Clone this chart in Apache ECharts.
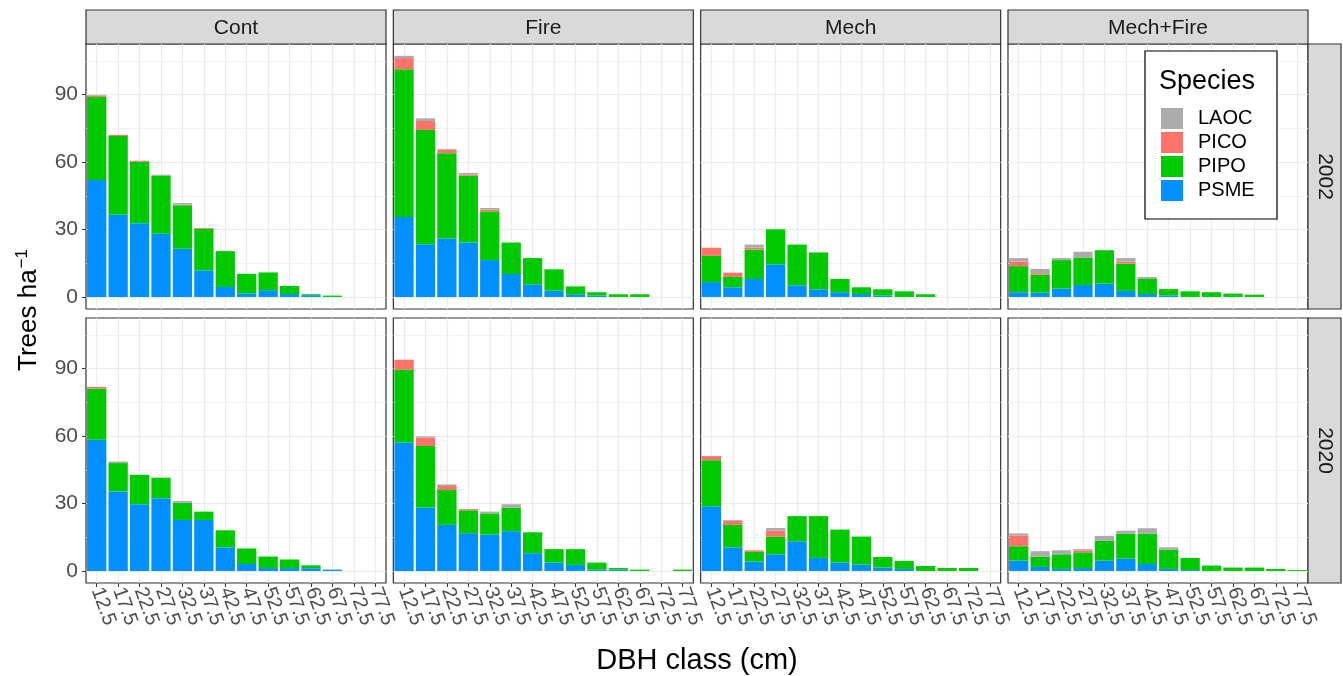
<!DOCTYPE html>
<html>
<head>
<meta charset="utf-8">
<title>Trees per ha by DBH class</title>
<script src="https://cdn.jsdelivr.net/npm/echarts@6/dist/echarts.min.js"></script>
<style>
	html, body { margin: 0; padding: 0; background: #fff; }
	#box { width: 1343px; height: 676px; }
</style>
</head>
<body>
<div id="box"></div>
<script>
// categories
var dbhClasses = ['12.5', '17.5', '22.5', '27.5', '32.5', '37.5', '42.5', '47.5', '52.5', '57.5', '62.5', '67.5', '72.5', '77.5'];
var treatments = ['Cont', 'Fire', 'Mech', 'Mech+Fire'];
var years = ['2002', '2020'];
// stack order, bottom to top
var speciesNames = ['PSME', 'PIPO', 'PICO', 'LAOC'];
var speciesColors = ['#0090FF', '#00C900', '#FF736B', '#ABABAB'];
var yTicks = [0, 30, 60, 90];
var yMinorTicks = [15, 45, 75, 105];

// 2002
var cont2002PSME = [52, 36.6, 32.8, 28.1, 21.4, 11.8, 4.4, 1.6, 3.0, 1.3, 0.8, 0, 0, 0];
var cont2002PIPO = [37, 35, 27.3, 25.8, 19.4, 18.5, 16, 8.7, 7.9, 3.6, 0.4, 0.6, 0, 0];
var cont2002PICO = [0.6, 0.5, 0.5, 0, 0.3, 0.4, 0, 0, 0, 0, 0, 0, 0, 0];
var cont2002LAOC = [0.4, 0, 0, 0.5, 0.7, 0, 0, 0, 0, 0, 0, 0, 0, 0];

var fire2002PSME = [35.6, 23.5, 26, 24.2, 16.4, 10.2, 5.6, 2.8, 1.2, 0.6, 0, 0, 0, 0];
var fire2002PIPO = [65.7, 50.8, 38, 29.7, 21.7, 14, 11.7, 9.5, 3.5, 1.5, 1.2, 1.2, 0, 0];
var fire2002PICO = [5, 4, 1.5, 0.5, 0.8, 0, 0, 0, 0, 0, 0, 0, 0, 0];
var fire2002LAOC = [1, 1.2, 0.4, 0.8, 0.7, 0, 0, 0, 0, 0, 0, 0, 0, 0];

var mech2002PSME = [6.6, 4.3, 8, 14.5, 5.2, 3.4, 2.1, 1.3, 0.6, 0, 0, 0, 0, 0];
var mech2002PIPO = [11.7, 4.6, 13.1, 15.6, 18.1, 16.4, 5.9, 3, 2.8, 2.5, 1.2, 0, 0, 0];
var mech2002PICO = [3.6, 1.9, 0.9, 0, 0, 0, 0, 0, 0, 0, 0, 0, 0, 0];
var mech2002LAOC = [0, 0, 1.3, 0, 0, 0, 0, 0, 0, 0, 0, 0, 0, 0];

var mechFire2002PSME = [2.1, 1.9, 3.7, 5.3, 5.9, 2.7, 1.3, 0.7, 0, 0, 0, 0, 0, 0];
var mechFire2002PIPO = [11.6, 8.1, 12.7, 12.1, 14.9, 12.1, 6.7, 2.8, 2.5, 2.1, 1.5, 1.0, 0, 0];
var mechFire2002PICO = [2.1, 0.6, 0, 0, 0, 0.9, 0, 0, 0, 0, 0, 0, 0, 0];
var mechFire2002LAOC = [1.5, 1.9, 0.9, 2.7, 0, 1.6, 0.9, 0, 0, 0, 0, 0, 0, 0];

// 2020
var cont2020PSME = [58.4, 35.4, 29.7, 32.4, 22.7, 22.7, 10.5, 3.1, 1.3, 1.3, 1.2, 0.6, 0, 0];
var cont2020PIPO = [22.7, 12.6, 13.1, 9.1, 7.6, 3.7, 7.6, 6.9, 5.1, 3.8, 1.3, 0, 0, 0];
var cont2020PICO = [0.8, 0, 0, 0, 0, 0, 0, 0, 0, 0, 0, 0, 0, 0];
var cont2020LAOC = [0, 0.7, 0, 0, 0.8, 0, 0, 0, 0, 0, 0, 0, 0, 0];

var fire2020PSME = [57.2, 28.2, 20.5, 16.8, 16.2, 17.7, 7.9, 3.7, 2.7, 0.6, 0.6, 0, 0, 0];
var fire2020PIPO = [32.3, 27.4, 15.5, 10.2, 9.4, 10.4, 9.3, 6, 7, 3.1, 0.7, 0.6, 0, 0.6];
var fire2020PICO = [4.5, 3.7, 1.8, 0.5, 0, 0, 0, 0, 0, 0, 0, 0, 0, 0];
var fire2020LAOC = [0, 0.6, 0.7, 0, 0.8, 1.6, 0, 0, 0, 0, 0, 0, 0, 0];

var mech2020PSME = [28.8, 10.5, 4.2, 7.4, 13.2, 5.8, 3.7, 2.8, 1.5, 0.9, 0, 0, 0, 0];
var mech2020PIPO = [20.5, 10, 4.3, 7.8, 11.2, 18.6, 14.7, 12.5, 4.7, 3.6, 2.2, 1.3, 1.3, 0];
var mech2020PICO = [1.8, 1.8, 0.7, 2.7, 0, 0, 0, 0, 0, 0, 0, 0, 0, 0];
var mech2020LAOC = [0, 0.4, 0, 1.2, 0, 0, 0, 0, 0, 0, 0, 0, 0, 0];

var mechFire2020PSME = [4.6, 1.8, 0.9, 1.3, 4.6, 5.5, 3.1, 0.9, 0.4, 0, 0, 0, 0, 0];
var mechFire2020PIPO = [6.4, 4.6, 6.5, 7, 8.8, 11.1, 13.5, 8.6, 5.4, 2.4, 1.5, 1.5, 0.9, 0.4];
var mechFire2020PICO = [4.8, 0, 0, 0.9, 0, 0, 0, 0, 0, 0, 0, 0, 0, 0];
var mechFire2020LAOC = [0.9, 2.4, 1.8, 0.5, 2.2, 1.3, 2.4, 1.0, 0, 0, 0, 0, 0, 0];

// panels in row order (2002 row, then 2020 row), species in stack order
var panelData = [
	[cont2002PSME, cont2002PIPO, cont2002PICO, cont2002LAOC],
	[fire2002PSME, fire2002PIPO, fire2002PICO, fire2002LAOC],
	[mech2002PSME, mech2002PIPO, mech2002PICO, mech2002LAOC],
	[mechFire2002PSME, mechFire2002PIPO, mechFire2002PICO, mechFire2002LAOC],
	[cont2020PSME, cont2020PIPO, cont2020PICO, cont2020LAOC],
	[fire2020PSME, fire2020PIPO, fire2020PICO, fire2020LAOC],
	[mech2020PSME, mech2020PIPO, mech2020PICO, mech2020LAOC],
	[mechFire2020PSME, mechFire2020PIPO, mechFire2020PICO, mechFire2020LAOC]
];

var font = "'Liberation Sans', Arial, sans-serif";
var panelW = 300, panelH = 265, panelStep = 307.33;
var panelTops = [44, 318];
var stripTop = 10, stripH = 34, rightStripX = 1308, rightStripW = 33;
var yMin = -5.36, yMax = 112.56;

function panelLeft(c) {
	return 86 + c * panelStep;
}

var myChart = echarts.init(document.getElementById("box"));

var grids = [], xAxes = [], yAxes = [], series = [], graphics = [];
var centreIdx = dbhClasses.map(function (d, i) { return i; });

for (var r = 0; r < years.length; r++) {
	for (var c = 0; c < treatments.length; c++) {
		var p = r * treatments.length + c;
		grids.push({
			left: panelLeft(c),
			top: panelTops[r],
			width: panelW,
			height: panelH,
			show: true,
			backgroundColor: '#fff',
			borderColor: '#333',
			borderWidth: 1.2
		});
		// category axis carrying the bars and the labels
		xAxes.push({
			gridIndex: p,
			type: 'category',
			data: dbhClasses,
			axisLine: { show: false, onZero: false },
			axisTick: { show: r == 1, alignWithLabel: true, length: 4, lineStyle: { color: '#333' } },
			axisLabel: {
				show: r == 1,
				interval: 0,
				rotate: -70,
				margin: 5,
				fontSize: 20,
				fontFamily: font,
				color: '#4D4D4D'
			},
			splitLine: { show: false }
		});
		// helper axis: gridlines at the category centres
		xAxes.push({
			gridIndex: p,
			type: 'value',
			min: -0.5,
			max: 13.5,
			axisLine: { show: false, onZero: false },
			axisTick: { show: false, customValues: centreIdx },
			axisLabel: { show: false },
			splitLine: { show: true, lineStyle: { color: '#EBEBEB', width: 1.2 } }
		});
		yAxes.push({
			gridIndex: p,
			type: 'value',
			min: yMin,
			max: yMax,
			axisLine: { show: false, onZero: false },
			axisTick: { show: c == 0, customValues: yTicks, length: 4, lineStyle: { color: '#333' } },
			axisLabel: {
				show: c == 0,
				customValues: yTicks,
				margin: 8,
				fontSize: 21,
				fontFamily: font,
				color: '#4D4D4D'
			},
			splitLine: { show: true, lineStyle: { color: '#EBEBEB', width: 1.2 } }
		});
		yAxes.push({
			gridIndex: p,
			type: 'value',
			min: yMin,
			max: yMax,
			axisLine: { show: false, onZero: false },
			axisTick: { show: false, customValues: yMinorTicks },
			axisLabel: { show: false },
			splitLine: { show: true, lineStyle: { color: '#EFEFEF', width: 0.8 } }
		});
		for (var s = 0; s < speciesNames.length; s++) {
			series.push({
				type: 'bar',
				name: speciesNames[s],
				xAxisIndex: 2 * p,
				yAxisIndex: 2 * p,
				stack: 'panel' + p,
				barCategoryGap: '10%',
				data: panelData[p][s],
				itemStyle: { color: speciesColors[s] },
				emphasis: { disabled: true }
			});
		}
	}
}

// facet strips on top
treatments.forEach(function (t, c) {
	graphics.push({
		type: 'rect',
		shape: { x: panelLeft(c), y: stripTop, width: panelW, height: stripH },
		style: { fill: '#D9D9D9', stroke: '#333', lineWidth: 1.2 }
	});
	graphics.push({
		type: 'text',
		x: panelLeft(c) + panelW / 2,
		y: stripTop + stripH / 2 + 1,
		style: { text: t, fontSize: 21, fontFamily: font, fill: '#1A1A1A', align: 'center', verticalAlign: 'middle' }
	});
});
// facet strips on the right
years.forEach(function (y, r) {
	graphics.push({
		type: 'rect',
		shape: { x: rightStripX, y: panelTops[r], width: rightStripW, height: panelH },
		style: { fill: '#D9D9D9', stroke: '#333', lineWidth: 1.2 }
	});
	graphics.push({
		type: 'text',
		x: rightStripX + rightStripW / 2,
		y: panelTops[r] + panelH / 2,
		rotation: -Math.PI / 2,
		style: { text: y, fontSize: 21, fontFamily: font, fill: '#1A1A1A', align: 'center', verticalAlign: 'middle' }
	});
});
// legend box and its title
graphics.push({
	type: 'rect',
	z: 3,
	shape: { x: 1145, y: 51, width: 132, height: 168 },
	style: { fill: '#fff', stroke: '#000', lineWidth: 1.2 }
});
graphics.push({
	type: 'text',
	z: 5,
	x: 1159,
	y: 82,
	style: { text: 'Species', fontSize: 27, fontFamily: font, fill: '#000', align: 'left', verticalAlign: 'middle' }
});
// axis titles
graphics.push({
	type: 'text',
	x: 29,
	y: 310,
	rotation: Math.PI / 2,
	style: {
		text: 'Trees ha{sup|−1}',
		fontSize: 26,
		fontFamily: font,
		fill: '#000',
		align: 'center',
		verticalAlign: 'middle',
		rich: { sup: { fontSize: 17, fontFamily: font, fill: '#000', padding: [0, 0, 14, 1] } }
	}
});
graphics.push({
	type: 'text',
	x: 697,
	y: 661,
	style: { text: 'DBH class (cm)', fontSize: 29, fontFamily: font, fill: '#000', align: 'center', verticalAlign: 'middle' }
});

var option = {
	animation: false,
	textStyle: { fontFamily: font },
	grid: grids,
	xAxis: xAxes,
	yAxis: yAxes,
	legend: {
		z: 6,
		data: ['LAOC', 'PICO', 'PIPO', 'PSME'],
		orient: 'vertical',
		left: 1161,
		top: 108,
		padding: 0,
		icon: 'rect',
		itemWidth: 22,
		itemHeight: 21,
		itemGap: 3,
		selectedMode: false,
		textStyle: { fontSize: 20, fontFamily: font, color: '#000', padding: [0, 0, 0, 10] }
	},
	graphic: graphics,
	series: series
};

myChart.setOption(option);
</script>
</body>
</html>
